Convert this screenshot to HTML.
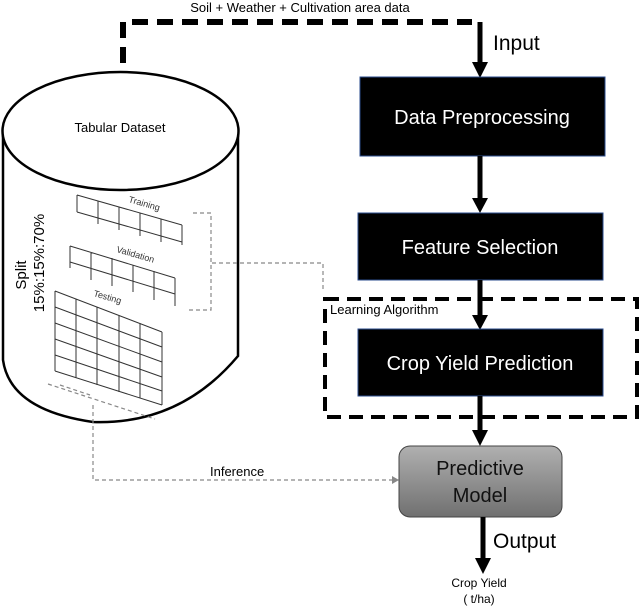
<!DOCTYPE html>
<html><head><meta charset="utf-8"><style>
html,body{margin:0;padding:0;background:#fff;}
svg{display:block;font-family:"Liberation Sans",sans-serif;}
</style></head><body>
<svg width="640" height="609" viewBox="0 0 640 609" xmlns="http://www.w3.org/2000/svg">
<defs>
<linearGradient id="g" x1="0" y1="0" x2="0" y2="1">
<stop offset="0" stop-color="#b0b0b0"/><stop offset="1" stop-color="#707070"/>
</linearGradient>
</defs>
<text x="300" y="12" font-size="13" text-anchor="middle" fill="#000">Soil + Weather + Cultivation area data</text>
<path d="M123,63 V22 H472" fill="none" stroke="#000" stroke-width="6" stroke-dasharray="16,9"/>
<line x1="480" y1="22" x2="480" y2="64" stroke="#000" stroke-width="5"/>
<polygon points="472,62 488,62 480,78" fill="#000"/>
<text x="493" y="50" font-size="21">Input</text>

<!-- cylinder -->
<path d="M3,131 V360 Q10,410 93,422 Q180,425 238,356 V131" fill="#fff" stroke="#000" stroke-width="2.5"/>
<ellipse cx="120.5" cy="131" rx="118" ry="59" fill="#fff" stroke="#000" stroke-width="2.5"/>
<text x="120" y="132" font-size="13" text-anchor="middle">Tabular Dataset</text>
<text transform="translate(26,275) rotate(-90)" font-size="15" text-anchor="middle">Split</text>
<text transform="translate(44,263) rotate(-90)" font-size="15" text-anchor="middle">15%:15%:70%</text>

<g stroke="#333" stroke-width="1" fill="none">
<!-- training -->
<path d="M77,195 L182,225 M77,212 L182,242 M77,195 V212 M98,201 V224 M119,207 V230 M140,213 V236 M161,219 V242 M182,225 V245"/>
<!-- validation -->
<path d="M70,246 L175,278 M70,262 L175,294 M70,246 V268 M91,252 V280 M112,258 V286 M133,265 V292 M154,271 V300 M175,278 V306"/>
<!-- testing -->
<path d="M55,291 L162,332 M55,307 L162,347 M55,323 L162,362 M55,339 L162,377 M55,355 L162,391 M55,371 L162,405 M55,291 V371 M76,299 V378 M97,307 V385 M119,315 V392 M140,323 V398 M162,332 V405"/>
</g>
<text transform="translate(128,202) rotate(16)" font-size="9" fill="#333">Training</text>
<text transform="translate(116,252) rotate(16)" font-size="9" fill="#333">Validation</text>
<text transform="translate(93,296) rotate(16)" font-size="9" fill="#333">Testing</text>

<g stroke="#888" stroke-width="1.2" fill="none" stroke-dasharray="4,3">
<path d="M193,213 H211 V310 H188"/>
<path d="M212,263 H323 V290"/>
<path d="M48,384 L155,419"/>
<path d="M60,385 L90,395 M93,405 V480 H392"/>
</g>
<polygon points="392,476 399,480 392,484" fill="#888"/>
<text x="210" y="476" font-size="13">Inference</text>

<!-- boxes -->
<rect x="360" y="77" width="245" height="79" fill="#000" stroke="#2a4b8d" stroke-width="1"/>
<text x="482" y="124" font-size="20" fill="#fff" text-anchor="middle">Data Preprocessing</text>
<line x1="480" y1="156" x2="480" y2="200" stroke="#000" stroke-width="5"/>
<polygon points="472,198 488,198 480,213" fill="#000"/>
<rect x="358" y="213" width="245" height="67" fill="#000" stroke="#2a4b8d" stroke-width="1"/>
<text x="480" y="254" font-size="20" fill="#fff" text-anchor="middle">Feature Selection</text>
<line x1="480" y1="280" x2="480" y2="317" stroke="#000" stroke-width="5"/>
<polygon points="472,315 488,315 480,330" fill="#000"/>

<rect x="325" y="299" width="312" height="118" fill="none" stroke="#000" stroke-width="4" stroke-dasharray="14,8"/>
<text x="330" y="314" font-size="13">Learning Algorithm</text>

<rect x="358" y="329" width="245" height="67" fill="#000" stroke="#2a4b8d" stroke-width="1"/>
<text x="480" y="370" font-size="20" fill="#fff" text-anchor="middle">Crop Yield Prediction</text>
<line x1="480" y1="396" x2="480" y2="432" stroke="#000" stroke-width="5"/>
<polygon points="472,430 488,430 480,446" fill="#000"/>

<rect x="399" y="446" width="163" height="71" rx="11" fill="url(#g)" stroke="#444" stroke-width="1"/>
<text x="480" y="475" font-size="20" text-anchor="middle" fill="#111">Predictive</text>
<text x="480" y="502" font-size="20" text-anchor="middle" fill="#111">Model</text>
<line x1="483" y1="517" x2="483" y2="560" stroke="#000" stroke-width="5"/>
<polygon points="475,558 491,558 483,574" fill="#000"/>
<text x="493" y="548" font-size="21">Output</text>
<text x="479" y="587" font-size="12" text-anchor="middle">Crop Yield</text>
<text x="479" y="603" font-size="12" text-anchor="middle">( t/ha)</text>
</svg>
</body></html>
